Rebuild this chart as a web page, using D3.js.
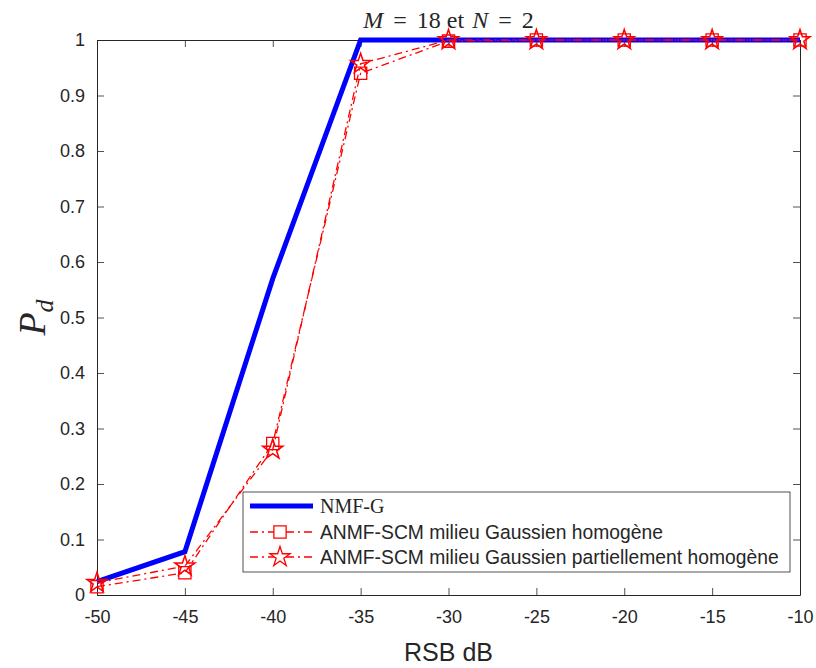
<!DOCTYPE html>
<html>
<head>
<meta charset="utf-8">
<script src="https://cdn.jsdelivr.net/npm/d3@7"></script>
<style>
  body { margin: 0; background: #fff; }
  text { font-family: "Liberation Sans", Arial, sans-serif; fill: #262626; }
  .serif { font-family: "Liberation Serif", "DejaVu Serif", serif; }
</style>
</head>
<body>
<div class="canvas"></div>
<script>
// data
const rsb = [-50, -45, -40, -35, -30, -25, -20, -15, -10];
const nmfG = [0.024, 0.078, 0.57, 1, 1, 1, 1, 1, 1];
const scmHomogene = [0.015, 0.04, 0.273, 0.94, 0.998, 1, 1, 1, 1];
const scmPartiel = [0.022, 0.052, 0.262, 0.957, 1, 1, 1, 1, 1];
const xTicks = [-50, -45, -40, -35, -30, -25, -20, -15, -10];
const yTicks = [0, 0.1, 0.2, 0.3, 0.4, 0.5, 0.6, 0.7, 0.8, 0.9, 1];
const legendLabels = [
  "NMF-G",
  "ANMF-SCM milieu Gaussien homogène",
  "ANMF-SCM milieu Gaussien partiellement homogène"
];

const W = 816, H = 668;
const margin = { left: 97, right: 16, top: 40, bottom: 73 };

const svg = d3.select(".canvas")
  .append("svg")
    .attr("width", W)
    .attr("height", H);

const x = d3.scaleLinear().domain([-50, -10]).range([margin.left, W - margin.right]);
const y = d3.scaleLinear().domain([0, 1]).range([H - margin.bottom, margin.top]);

// AXES - MATLAB style box with inward ticks
const axisColor = "#262626";
const tickLen = 7;

const axBottom = svg.append("g")
  .attr("transform", `translate(0,${y(0)})`)
  .call(d3.axisBottom(x).tickValues(xTicks).tickSizeInner(-tickLen).tickSizeOuter(0).tickPadding(15)
    .tickFormat(d => String(d)));
const axTop = svg.append("g")
  .attr("transform", `translate(0,${y(1)})`)
  .call(d3.axisTop(x).tickValues(xTicks).tickSizeInner(-tickLen).tickSizeOuter(0).tickFormat(""));
const axLeft = svg.append("g")
  .attr("transform", `translate(${x(-50)},0)`)
  .call(d3.axisLeft(y).tickValues(yTicks).tickSizeInner(-tickLen).tickSizeOuter(0).tickPadding(12)
    .tickFormat(d => d === 0 || d === 1 ? d3.format("d")(d) : d3.format(".1f")(d)));
const axRight = svg.append("g")
  .attr("transform", `translate(${x(-10)},0)`)
  .call(d3.axisRight(y).tickValues(yTicks).tickSizeInner(-tickLen).tickSizeOuter(0).tickFormat(""));

[axBottom, axTop, axLeft, axRight].forEach(g => {
  g.select(".domain").attr("stroke", axisColor).attr("stroke-width", 1);
  g.selectAll(".tick line").attr("stroke", axisColor).attr("stroke-width", 0.8);
  g.selectAll(".tick text").style("font-size", "18px").attr("fill", axisColor)
    .style("font-family", "'Liberation Sans', Arial, sans-serif");
});

// LINES
const line = d3.line().x((d, i) => x(rsb[i])).y(d => y(d));

svg.append("path")
  .datum(nmfG)
  .attr("fill", "none")
  .attr("stroke", "#0000ff")
  .attr("stroke-width", 5)
  .attr("stroke-linejoin", "miter")
  .attr("d", line);

const dashDot = "8,4,2,4";

svg.append("path")
  .datum(scmHomogene)
  .attr("fill", "none")
  .attr("stroke", "#ff0000")
  .attr("stroke-width", 1.3)
  .attr("stroke-dasharray", dashDot)
  .attr("d", line);

svg.append("path")
  .datum(scmPartiel)
  .attr("fill", "none")
  .attr("stroke", "#ff0000")
  .attr("stroke-width", 1.3)
  .attr("stroke-dasharray", dashDot)
  .attr("d", line);

// MARKERS
const squareSym = d3.symbol().type(d3.symbolSquare).size(150);
const starSym = d3.symbol().type(d3.symbolStar).size(125);

svg.append("g").selectAll("path")
  .data(scmHomogene)
  .enter().append("path")
    .attr("transform", (d, i) => `translate(${x(rsb[i])},${y(d)})`)
    .attr("d", squareSym)
    .attr("fill", "none")
    .attr("stroke", "#ff0000")
    .attr("stroke-width", 1.3);

svg.append("g").selectAll("path")
  .data(scmPartiel)
  .enter().append("path")
    .attr("transform", (d, i) => `translate(${x(rsb[i])},${y(d)})`)
    .attr("d", starSym)
    .attr("fill", "none")
    .attr("stroke", "#ff0000")
    .attr("stroke-width", 1.5);

// TITLE - latex-like spacing around "="
const title = svg.append("text")
  .attr("class", "serif")
  .attr("x", (x(-50) + x(-10)) / 2)
  .attr("y", 28)
  .attr("text-anchor", "middle")
  .style("font-size", "24px")
  .attr("fill", "#000");
title.append("tspan").style("font-style", "italic").text("M");
title.append("tspan").attr("dx", 10).text("=");
title.append("tspan").attr("dx", 10).text("18 et");
title.append("tspan").attr("dx", 8).style("font-style", "italic").text("N");
title.append("tspan").attr("dx", 10).text("=");
title.append("tspan").attr("dx", 10).text("2");

// AXIS LABELS
svg.append("text")
  .attr("x", (x(-50) + x(-10)) / 2)
  .attr("y", 661)
  .attr("text-anchor", "middle")
  .style("font-size", "25px")
  .text("RSB dB");

const ylab = svg.append("text")
  .attr("class", "serif")
  .attr("transform", `translate(45,${y(0.5)}) rotate(-90)`)
  .attr("text-anchor", "middle")
  .style("font-size", "38px")
  .style("font-style", "italic")
  .attr("fill", "#000");
ylab.append("tspan").text("P");
ylab.append("tspan").attr("dy", 8).style("font-size", "26px").text("d");

// LEGEND
const lg = svg.append("g").attr("transform", "translate(243,492)");
lg.append("rect")
  .attr("width", 547).attr("height", 80)
  .attr("fill", "#fff")
  .attr("stroke", axisColor)
  .attr("stroke-width", 0.8);

const rows = [14, 40, 65];
lg.append("line")
  .attr("x1", 7).attr("x2", 70).attr("y1", rows[0]).attr("y2", rows[0])
  .attr("stroke", "#0000ff").attr("stroke-width", 5);
[1, 2].forEach(k => {
  lg.append("line")
    .attr("x1", 7).attr("x2", 70).attr("y1", rows[k]).attr("y2", rows[k])
    .attr("stroke", "#ff0000").attr("stroke-width", 1.3)
    .attr("stroke-dasharray", dashDot);
  lg.append("path")
    .attr("transform", `translate(37,${rows[k]})`)
    .attr("d", k === 1 ? squareSym : starSym)
    .attr("fill", "#fff")
    .attr("stroke", "#ff0000")
    .attr("stroke-width", 1.3);
});

lg.selectAll("text.lab")
  .data(legendLabels)
  .enter().append("text")
    .attr("class", (d, i) => i === 0 ? "lab serif" : "lab")
    .attr("x", 77)
    .attr("y", (d, i) => rows[i] + 7)
    .style("font-size", (d, i) => i === 0 ? "20px" : "19.3px")
    .attr("fill", "#000")
    .text(d => d);
</script>
</body>
</html>
